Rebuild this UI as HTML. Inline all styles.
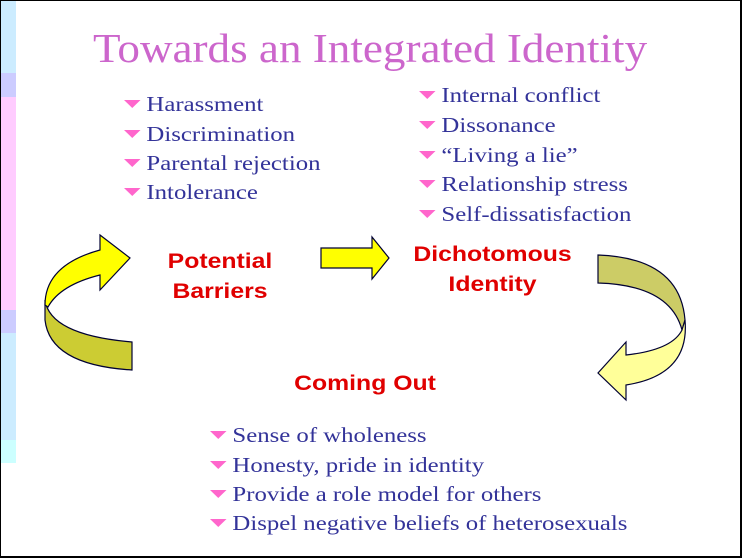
<!DOCTYPE html>
<html><head><meta charset="utf-8"><style>
body{margin:0;width:742px;height:559px;overflow:hidden;background:#fff;position:relative;font-family:"Liberation Serif",serif}
.s{position:absolute;left:0;width:16px}
.t{position:absolute;white-space:nowrap;transform-origin:0 0}
.b{position:absolute;font-size:21px;color:#333399;white-space:nowrap;line-height:24px;transform:scaleX(1.18);transform-origin:0 0}
.b:before{content:"";display:inline-block;width:0;height:0;border-left:7px solid transparent;border-right:7px solid transparent;border-top:8px solid #ff66cc;margin-right:5px;vertical-align:3px}
.r{position:absolute;font-family:"Liberation Sans",sans-serif;font-weight:bold;color:#e00000;font-size:21px;text-align:center;line-height:30px;white-space:nowrap;transform:scaleX(1.18)}
</style></head><body>
<div class="s" style="top:0;height:73px;background:#ccecff"></div>
<div class="s" style="top:73px;height:24px;background:#ccccff"></div>
<div class="s" style="top:97px;height:213px;background:#ffccff"></div>
<div class="s" style="top:310px;height:23px;background:#ccccff"></div>
<div class="s" style="top:333px;height:107px;background:#ccecff"></div>
<div class="s" style="top:440px;height:23px;background:#ccffff"></div>
<div style="position:absolute;left:0;top:0;width:739px;height:555px;border:1px solid #000;border-right-width:2px;border-bottom-width:2px"></div>
<div class="t" style="left:93px;top:22px;font-size:41px;color:#cc66cc;line-height:52px;transform:scaleX(1.1)">Towards an Integrated Identity</div>
<div class="b" style="left:124px;top:92px">Harassment</div>
<div class="b" style="left:124px;top:122px">Discrimination</div>
<div class="b" style="left:124px;top:151px">Parental rejection</div>
<div class="b" style="left:124px;top:180px">Intolerance</div>
<div class="b" style="left:419px;top:83px">Internal conflict</div>
<div class="b" style="left:419px;top:113px">Dissonance</div>
<div class="b" style="left:419px;top:143px">“Living a lie”</div>
<div class="b" style="left:419px;top:172px">Relationship stress</div>
<div class="b" style="left:419px;top:202px">Self-dissatisfaction</div>
<div class="b" style="left:210px;top:423px">Sense of wholeness</div>
<div class="b" style="left:210px;top:453px">Honesty, pride in identity</div>
<div class="b" style="left:210px;top:482px">Provide a role model for others</div>
<div class="b" style="left:210px;top:511px">Dispel negative beliefs of heterosexuals</div>
<div class="r" style="left:150px;top:247px;width:140px">Potential<br>Barriers</div>
<div class="r" style="left:405px;top:240px;width:175px">Dichotomous<br>Identity</div>
<div class="r" style="left:280px;top:369px;width:170px">Coming Out</div>
<svg width="742" height="559" style="position:absolute;left:0;top:0">
<g stroke="#000033" stroke-width="1.2">
<polygon points="321,248 372,248 372,237 389,258 372,279 372,268 321,268" fill="#ffff00"/>
<path d="M45,300 Q50,335 132,342 L132,370 Q50,365 45,320 Z" fill="#cccc33"/>
<path d="M45,305 Q45,265 100,250 L100,235 L130,258 L100,290 L100,275 Q60,285 48,307 Z" fill="#ffff00"/>
<path d="M598,255 Q680,258 685,320 L682,330 Q670,285 598,283 Z" fill="#cccc66"/>
<path d="M685,320 Q690,375 626,385 L626,400 L598,373 L626,342 L626,355 Q672,350 682,330 Z" fill="#ffff99"/>
</g></svg>
</body></html>
